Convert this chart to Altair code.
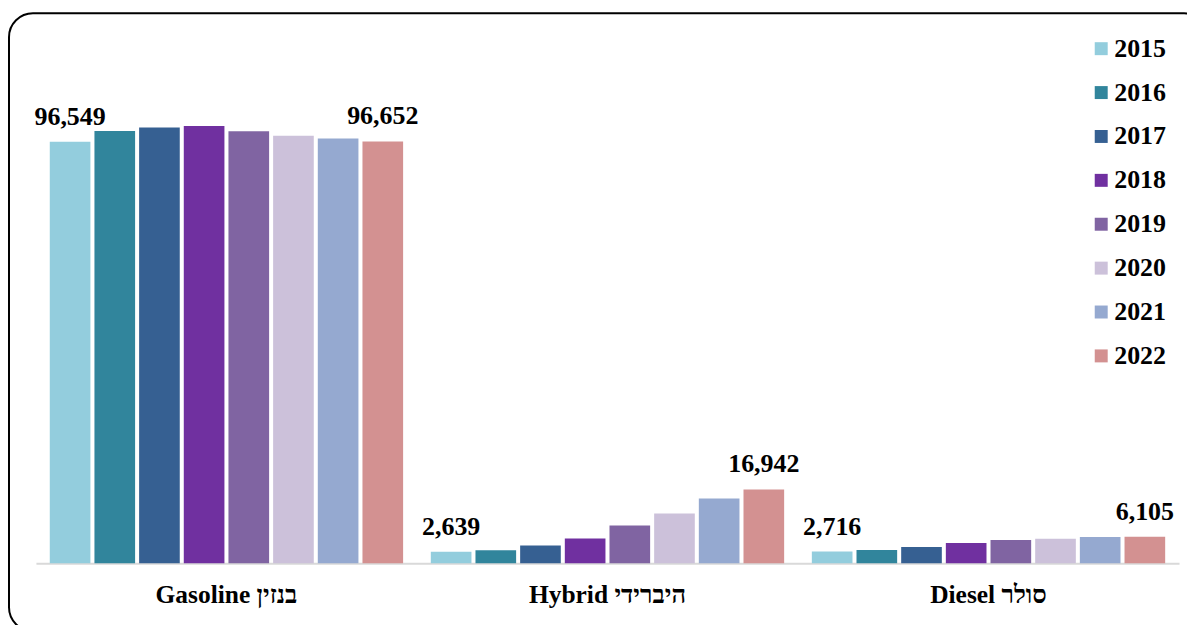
import altair as alt
import pandas as pd

years = ["2015", "2016", "2017", "2018", "2019", "2020", "2021", "2022"]
categories = ["Gasoline  בנזין", "Hybrid היברידי", "Diesel סולר"]
gasoline = [96549, 99060, 99810, 100200, 98970, 97920, 97300, 96652]
hybrid = [2639, 3000, 4070, 5680, 8670, 11430, 14880, 16942]
diesel = [2716, 3060, 3750, 4670, 5360, 5660, 6050, 6105]
colors = ["#93CDDD", "#31859C", "#366092", "#7030A0", "#8064A2", "#CCC1DA", "#95A9D0", "#D39191"]
labeled_years = ["2015", "2022"]

rows = []
for cat, vals in zip(categories, [gasoline, hybrid, diesel]):
    for yr, v in zip(years, vals):
        rows.append({"fuel": cat, "year": yr, "value": v})
df = pd.DataFrame(rows)

FONT = "Liberation Serif"

base = alt.Chart(df).encode(
    x=alt.X(
        "fuel:N",
        sort=categories,
        scale=alt.Scale(paddingInner=0, paddingOuter=0),
        axis=alt.Axis(
            title=None, labelAngle=0, ticks=False, domainColor="#d9d9d9",
            domainWidth=2, labelFont=FONT, labelFontSize=25.5, labelFontWeight="bold",
            labelColor="black", labelPadding=19, grid=False,
        ),
    ),
    xOffset=alt.XOffset("year:N", sort=years,
                        scale=alt.Scale(paddingInner=0.09, paddingOuter=0.31)),
    y=alt.Y("value:Q", scale=alt.Scale(domain=[0, 122000]), axis=None),
)

bars = base.mark_bar().encode(
    color=alt.Color(
        "year:N",
        scale=alt.Scale(domain=years, range=colors),
        legend=alt.Legend(
            title=None, orient="none", legendX=1055, legendY=5, padding=0,
            symbolType="square", symbolSize=169, symbolStrokeWidth=0,
            labelFont=FONT, labelFontSize=26, labelFontWeight="bold",
            labelColor="black", labelOffset=0, rowPadding=18,
        ),
    )
)

text = base.transform_filter(
    alt.FieldOneOfPredicate(field="year", oneOf=labeled_years)
).mark_text(
    dy=-17, baseline="alphabetic", font=FONT, fontSize=26, fontWeight="bold", color="black"
).encode(text=alt.Text("value:Q", format=","))

frame = alt.Chart(alt.Data(values=[{}])).mark_rect(
    fillOpacity=0, stroke="black", strokeWidth=2, cornerRadius=24
).encode(
    x=alt.value(-27), x2=alt.value(1175),
    y=alt.value(-17.5), y2=alt.value(602),
)

chart = alt.layer(frame, bars, text).properties(
    width=1146, height=534,
    autosize=alt.AutoSizeParams(type="none"),
    padding={"left": 28, "top": 22, "right": 8, "bottom": 61},
).configure(font=FONT).configure_view(stroke="transparent", strokeWidth=0)

chart.save("out.html", embed_options={"renderer": "svg", "actions": False})
